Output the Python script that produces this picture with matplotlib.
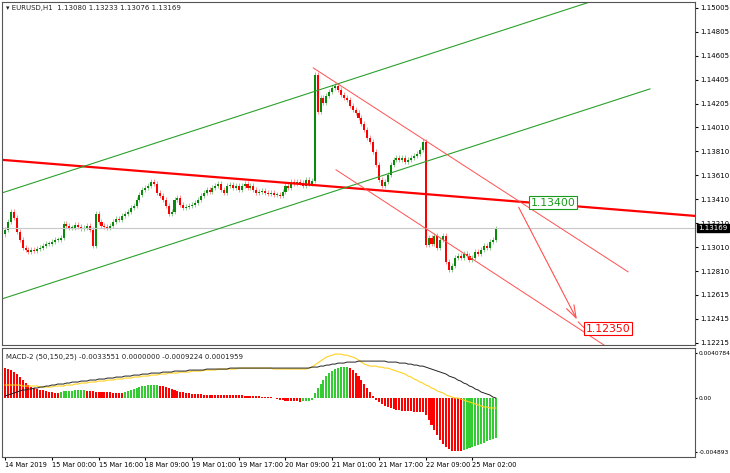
import matplotlib
matplotlib.use("Agg")
import matplotlib.pyplot as plt
import numpy as np

closes = [1.13156,1.13223,1.13307,1.13257,1.13139,1.13073,1.13006,1.12990,1.12973,1.12990,
 1.12981,1.12998,1.13006,1.13023,1.13040,1.13040,1.13056,1.13073,1.13073,1.13089,
 1.13207,1.13190,1.13173,1.13173,1.13198,1.13181,1.13165,1.13173,1.13190,1.13156,
 1.13023,1.13290,1.13223,1.13190,1.13181,1.13173,1.13190,1.13223,1.13248,1.13240,
 1.13273,1.13290,1.13307,1.13340,1.13356,1.13406,1.13448,1.13489,1.13506,1.13523,
 1.13556,1.13539,1.13465,1.13440,1.13406,1.13356,1.13290,1.13307,1.13406,1.13423,
 1.13365,1.13340,1.13348,1.13356,1.13365,1.13381,1.13406,1.13440,1.13465,1.13489,
 1.13473,1.13506,1.13523,1.13539,1.13489,1.13465,1.13523,1.13531,1.13506,1.13523,
 1.13489,1.13523,1.13539,1.13506,1.13523,1.13489,1.13465,1.13473,1.13481,1.13465,
 1.13456,1.13465,1.13448,1.13448,1.13440,1.13473,1.13523,1.13506,1.13556,1.13539,
 1.13556,1.13548,1.13523,1.13573,1.13539,1.13564,
 1.14447,1.14139,1.14256,1.14214,1.14272,1.14306,1.14339,1.14356,1.14322,1.14281,
 1.14256,1.14239,1.14189,1.14156,1.14131,1.14089,1.14039,1.13989,1.13922,1.13889,
 1.13806,1.13698,1.13573,1.13523,1.13556,1.13614,1.13698,1.13739,1.13756,1.13739,
 1.13756,1.13723,1.13739,1.13756,1.13772,1.13789,1.13822,1.13889,1.13031,1.13089,
 1.13040,1.13106,1.13006,1.13073,1.13106,1.12889,1.12823,1.12856,1.12923,1.12939,
 1.12923,1.12956,1.12939,1.12906,1.12923,1.12973,1.12956,1.12990,1.13023,1.13006,
 1.13056,1.13073,1.13169]
first_open = 1.13120

hist_px = [30,29,28,26,24,21,18,15,13,11, 10,9,8,8,7,6,6,5,5,6,
 7,7,7,7,8,8,8,8,7,7, 7,6,6,6,6,6,6,5,5,5, 5,6,7,8,9,10,11,12,12,13,
 13,13,13,12,12,11,10,9,8,7, 6,6,5,5,4,4,4,4,3,3, 3,3,3,3,3,3,3,3,3,3,
 3,3,2,2,2,2,2,2,1,1, 1,1,0,-1,-2,-2,-3,-3,-3,-3, -3,-4,-3,-3,-3,-2,
 5,10,14,18,22,25,27,29,30,31, 31,31,30,28,25,22,18,14,10,6,
 2,-2,-4,-6,-8,-9,-10,-11,-12,-12, -13,-13,-13,-13,-14,-14,-14,-14,-17,-22,
 -27,-32,-37,-42,-46,-49,-51,-53,-53,-53, -53,-52,-51,-50,-49,-48,-47,-46,-45,-43,
 -42,-41,-40]
signal_px = [13,13,13,13,13,13,12,12,12,12,12,12,11,11,11,11,11,12,12,12,
 12,13,13,13,14,14,15,15,15,16,16,16,17,17,17,18,18,18,19,19,
 19,20,20,20,21,21,21,22,22,22,23,23,23,24,24,24,25,25,25,25,
 26,26,26,26,27,27,27,27,28,28,28,28,28,29,29,29,29,29,29,29,
 30,30,30,30,30,30,30,30,30,30,30,30,29,29,29,29,29,29,29,29,
 29,29,29,29,30,31,
 33,35,37,39,41,42,43,44,44,44,43,43,42,41,40,38,36,34,33,32,
 32,32,31,31,30,30,29,28,27,26,25,24,22,21,19,18,16,15,13,12,
 10,9,7,6,5,3,2,1,0,0,-1,-2,-3,-4,-5,-6,-7,-8,-9,-9,-10,-10,-10]
main_px = [2,3,4,5,6,7,8,8,9,9,10,10,11,11,12,12,13,13,14,14,
 14,15,15,16,16,16,17,17,17,18,18,18,19,19,19,20,20,20,21,21,
 21,22,22,22,23,23,23,24,24,24,25,25,25,25,26,26,26,26,27,27,
 27,27,27,28,28,28,28,28,28,29,29,29,29,29,29,29,29,30,30,30,
 30,30,30,30,30,30,30,30,30,30,30,30,30,30,30,30,30,30,30,30,
 30,30,30,30,30,31,
 31,31,32,32,33,33,34,34,35,35,35,36,36,36,36,37,37,37,37,37,
 37,37,37,37,37,36,36,36,36,35,35,35,34,34,33,33,32,32,31,30,
 29,28,27,26,25,24,22,21,20,18,17,15,14,12,11,9,8,6,5,4,3,1,0]
MACD_UNIT = 0.0000906
hist = np.array(hist_px) * MACD_UNIT
signal = np.array(signal_px) * MACD_UNIT
macd_main = np.array(main_px) * MACD_UNIT

price_ticks = [1.15005,1.14805,1.14605,1.14405,1.14205,1.14010,1.13810,1.13610,1.13410,
               1.13210,1.13010,1.12810,1.12615,1.12415,1.12215]
date_pos = [0,16,32,48,64,80,96,112,128,144,160]
date_labels = ["14 Mar 2019","15 Mar 00:00","15 Mar 16:00","18 Mar 09:00","19 Mar 01:00",
               "19 Mar 17:00","20 Mar 09:00","21 Mar 01:00","21 Mar 17:00","22 Mar 09:00","25 Mar 02:00"]

# drawn objects (bar, price)
thick_red = [(-1.0, 1.13739), (236.2, 1.13272)]
green_up = [(-1.0, 1.13464), (200.3, 1.15055)]
green_low = [(-1.0, 1.12581), (220.8, 1.14330)]
red_up = [(105.5, 1.14505), (213.3, 1.12806)]
red_low = [(113.3, 1.13656), (206.5, 1.12173)]
arrow = [(175.4, 1.13364), (196.2, 1.12389)]

GREEN = "#0a8a0a"; RED = "#ff0000"
fig = plt.figure(figsize=(7.3, 4.73), dpi=100)
ax = fig.add_axes([0.003, 0.271, 0.949, 0.725])
mx = fig.add_axes([0.003, 0.034, 0.949, 0.230])
XL = (-1.0, 236.2)

n = len(closes)
opens = [first_open] + closes[:-1]
x = np.arange(n)
for i in range(n):
    o, c = opens[i], closes[i]
    col = GREEN if c >= o else RED
    hi = max(o, c) + 0.00020
    lo = min(o, c) - 0.00020
    ax.vlines(i, lo, hi, color=col, lw=0.6, alpha=0.5)
    ax.bar(i, max(abs(c - o), 0.00003), bottom=min(o, c), width=0.7, color=col, lw=0)

ax.axhline(1.13169, color="#c8c8c8", lw=0.8)
for seg, col, lw in [(thick_red, RED, 1.6), (green_up, "#2ca02c", 0.8), (green_low, "#2ca02c", 0.8),
                     (red_up, "#ff5050", 0.7), (red_low, "#ff5050", 0.7)]:
    ax.plot([seg[0][0], seg[1][0]], [seg[0][1], seg[1][1]], color=col, lw=lw)
ax.annotate("", xy=arrow[1], xytext=arrow[0],
            arrowprops=dict(arrowstyle="->,head_length=0.9,head_width=0.3", color="#ff5050", lw=0.8))
ax.plot([196.2, 198.6], [1.12389, 1.12331], color="#ff5050", lw=0.7)
ax.text(180.0, 1.13381, "1.13400", color="#1a9a1a", fontsize=7.8, va="center", ha="left",
        bbox=dict(boxstyle="square,pad=0.15", fc="white", ec="#1a9a1a", lw=0.8))
ax.text(198.8, 1.12331, "1.12350", color=RED, fontsize=7.8, va="center", ha="left",
        bbox=dict(boxstyle="square,pad=0.15", fc="white", ec=RED, lw=0.8))
ax.set_xlim(*XL); ax.set_ylim(1.12198, 1.15055)
ax.yaxis.tick_right()
ax.set_yticks(price_ticks)
ax.set_yticklabels([f"{v:.5f}" for v in price_ticks], fontsize=5.0)
ax.tick_params(axis="y", length=2, pad=2)
ax.set_xticks([])
ax.text(1.005, 1.13169, "1.13169", transform=ax.get_yaxis_transform(), fontsize=5.0, color="white",
        va="center", ha="left", bbox=dict(boxstyle="square,pad=0.15", fc="black", ec="black"))
ax.text(0.005, 0.99, "\u25be EURUSD,H1  1.13080 1.13233 1.13076 1.13169", transform=ax.transAxes,
        fontsize=5.0, va="top", ha="left", color="#222222")

cols = []
prev = RED
for i in range(n):
    if i > 0 and hist[i] > hist[i-1]:
        prev = "#33cc33"
    elif i > 0 and hist[i] < hist[i-1]:
        prev = RED
    cols.append(prev)
mx.bar(x, hist, width=0.7, color=cols, lw=0)
mx.plot(x, signal, color="#ffd21f", lw=0.8)
mx.plot(x, macd_main, color="#222222", lw=0.7)
mx.set_xlim(*XL); mx.set_ylim(-0.00535, 0.00453)
mx.yaxis.tick_right()
mx.set_yticks([0.0040784, 0.0, -0.004893])
mx.set_yticklabels(["0.0040784", "0.00", "-0.004893"], fontsize=4.2)
mx.set_xticks(date_pos)
mx.set_xticklabels(date_labels, fontsize=4.8, ha="left")
mx.tick_params(axis="x", length=2, pad=1.5)
mx.tick_params(axis="y", length=1.5, pad=1)
mx.text(0.005, 0.95, "MACD-2 (50,150,25) -0.0033551 0.0000000 -0.0009224 0.0001959", transform=mx.transAxes,
        fontsize=5.0, va="top", ha="left", color="#222222")
for a in (ax, mx):
    for s in a.spines.values():
        s.set_color("#555555"); s.set_linewidth(0.8)
fig.savefig("out.png", dpi=100)
